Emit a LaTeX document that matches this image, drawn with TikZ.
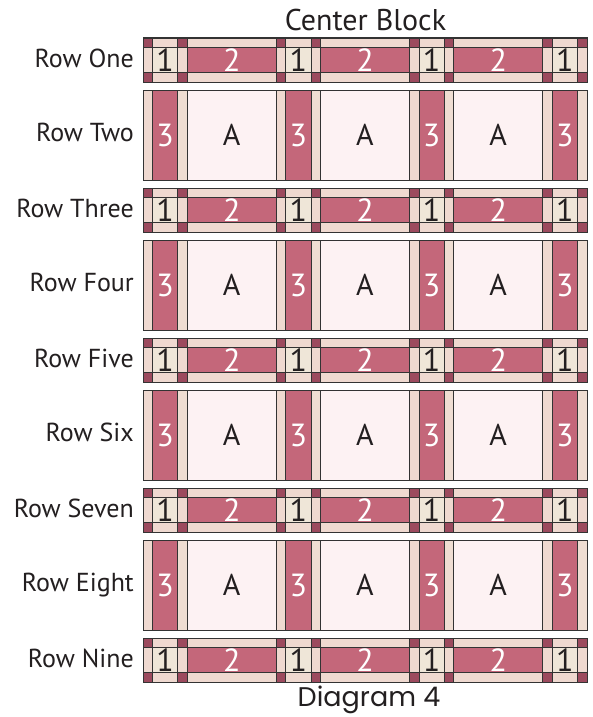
\documentclass[tikz,border=0pt]{standalone}
\usepackage{fontspec}
\setmainfont{PT Sans}
\newfontfamily\geofont{Poppins}
\definecolor{darkc}{HTML}{9C4A5E}
\definecolor{rosec}{HTML}{C4677A}
\definecolor{sashc}{HTML}{EFD9D0}
\definecolor{creamc}{HTML}{EFE6D8}
\definecolor{palec}{HTML}{FDF2F3}
\definecolor{linec}{HTML}{333333}
\definecolor{textc}{HTML}{231F20}
\tikzset{
  patch/.style={draw=linec, line width=0.9pt},
  digitdark/.style={inner sep=0pt, text=textc, font=\fontsize{32}{32}\selectfont},
  digitlight/.style={inner sep=0pt, text=white, font=\fontsize{32}{32}\selectfont},
  letterA/.style={inner sep=0pt, text=textc, font=\fontsize{30}{30}\selectfont},
  rowlabel/.style={inner sep=0pt, anchor=base east, text=textc, font=\fontsize{26}{26}\selectfont},
}
\begin{document}
\begin{tikzpicture}[x=1pt,y=-1pt]
\useasboundingbox (0,0) rectangle (593,717);
\fill[white] (0,0) rectangle (593,717);
\def\nw{44.25}
\def\ww{89}
\def\cs{9.5}
% sashing rows (odd)
\foreach \k/\lab in {0/One,1/Three,2/Five,3/Seven,4/Nine}{
  \pgfmathsetmacro\T{38+150*\k}
  \foreach \j/\X in {0/143,1/276.25,2/409.5,3/542.75}{
    \filldraw[patch,fill=sashc] (\X+\cs,\T) rectangle ++(\nw-2*\cs,\cs);
    \filldraw[patch,fill=sashc] (\X+\cs,\T+44-\cs) rectangle ++(\nw-2*\cs,\cs);
    \filldraw[patch,fill=sashc] (\X,\T+\cs) rectangle ++(\cs,44-2*\cs);
    \filldraw[patch,fill=sashc] (\X+\nw-\cs,\T+\cs) rectangle ++(\cs,44-2*\cs);
    \filldraw[patch,fill=darkc] (\X,\T) rectangle ++(\cs,\cs);
    \filldraw[patch,fill=darkc] (\X+\nw-\cs,\T) rectangle ++(\cs,\cs);
    \filldraw[patch,fill=darkc] (\X,\T+44-\cs) rectangle ++(\cs,\cs);
    \filldraw[patch,fill=darkc] (\X+\nw-\cs,\T+44-\cs) rectangle ++(\cs,\cs);
    \filldraw[patch,fill=creamc] (\X+\cs,\T+\cs) rectangle ++(\nw-2*\cs,44-2*\cs);
    \node[digitdark] (s\k n\j) at (\X+\nw/2,\T+22) {1};
  }
  \foreach \j/\X in {0/187.25,1/320.5,2/453.75}{
    \filldraw[patch,fill=sashc] (\X,\T) rectangle ++(\ww,\cs);
    \filldraw[patch,fill=sashc] (\X,\T+44-\cs) rectangle ++(\ww,\cs);
    \filldraw[patch,fill=rosec] (\X,\T+\cs) rectangle ++(\ww,44-2*\cs);
    \node[digitlight] (s\k w\j) at (\X+\ww/2,\T+22) {2};
  }
  \draw[line width=1pt,draw=linec] (143,\T) rectangle (587,\T+44);
  \node[rowlabel] (ls\k) at (134,\T+22+7.5) {Row \lab};
}
% block rows (even)
\foreach \k/\lab in {0/Two,1/Four,2/Six,3/Eight}{
  \pgfmathsetmacro\T{90+150*\k}
  \foreach \j/\X in {0/143,1/276.25,2/409.5,3/542.75}{
    \filldraw[patch,fill=sashc] (\X,\T) rectangle ++(\cs,90);
    \filldraw[patch,fill=sashc!70!creamc] (\X+\nw-\cs,\T) rectangle ++(\cs,90);
    \filldraw[patch,fill=rosec] (\X+\cs,\T) rectangle ++(\nw-2*\cs,90);
    \node[digitlight] (b\k n\j) at (\X+\nw/2,\T+45) {3};
  }
  \foreach \j/\X in {0/187.25,1/320.5,2/453.75}{
    \filldraw[patch,fill=palec] (\X,\T) rectangle ++(\ww,90);
    \node[letterA] (b\k w\j) at (\X+\ww/2,\T+45) {A};
  }
  \draw[line width=1pt,draw=linec] (143,\T) rectangle (587,\T+90);
  \node[rowlabel] (lb\k) at (134,\T+45+6) {Row \lab};
}
\node[inner sep=0pt, anchor=base, text=textc, font=\fontsize{30}{30}\selectfont] (title) at (365.5,30.5) {Center Block};
\node[inner sep=0pt, anchor=base, text=textc, font=\geofont\fontsize{27}{27}\selectfont] (caption) at (369,706) {Diagram 4};
\end{tikzpicture}
\end{document}
